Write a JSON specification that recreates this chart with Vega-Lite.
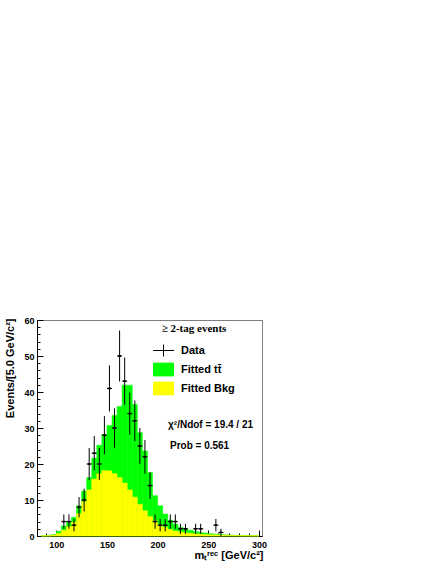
{
  "$schema": "https://vega.github.io/schema/vega-lite/v6.json",
  "width": 225,
  "height": 216,
  "autosize": {"type": "none"},
  "padding": {"left": 37, "top": 320, "right": 174, "bottom": 28},
  "background": "white",
  "config": {
    "view": {"stroke": "#7f7f7f", "strokeWidth": 1},
    "axis": {"grid": false, "tickColor": "black", "domainColor": "black", "labelColor": "black", "titleColor": "black", "labelFont": "Liberation Sans", "titleFont": "Liberation Sans", "tickWidth": 1}
  },
  "datasets": {
    "hist": [
      {"lo": 85, "hi": 90, "tot": 0.05, "bkg": 0.03},
      {"lo": 90, "hi": 95, "tot": 0.1, "bkg": 0.07},
      {"lo": 95, "hi": 100, "tot": 0.4, "bkg": 0.25},
      {"lo": 100, "hi": 105, "tot": 1.3, "bkg": 0.7},
      {"lo": 105, "hi": 110, "tot": 2.8, "bkg": 1.6},
      {"lo": 110, "hi": 115, "tot": 3.8, "bkg": 2.6},
      {"lo": 115, "hi": 120, "tot": 5.2, "bkg": 3.8},
      {"lo": 120, "hi": 125, "tot": 8.4, "bkg": 6.2},
      {"lo": 125, "hi": 130, "tot": 12.5, "bkg": 9.5},
      {"lo": 130, "hi": 135, "tot": 16.2, "bkg": 12.8},
      {"lo": 135, "hi": 140, "tot": 21.6, "bkg": 15.8},
      {"lo": 140, "hi": 145, "tot": 25.2, "bkg": 17.3},
      {"lo": 145, "hi": 150, "tot": 28.2, "bkg": 18.2},
      {"lo": 150, "hi": 155, "tot": 30.7, "bkg": 18.1},
      {"lo": 155, "hi": 160, "tot": 33.5, "bkg": 17.3},
      {"lo": 160, "hi": 165, "tot": 36.0, "bkg": 16.2},
      {"lo": 165, "hi": 170, "tot": 41.9, "bkg": 14.7},
      {"lo": 170, "hi": 175, "tot": 41.9, "bkg": 12.8},
      {"lo": 175, "hi": 180, "tot": 36.5, "bkg": 10.8},
      {"lo": 180, "hi": 185, "tot": 28.7, "bkg": 8.8},
      {"lo": 185, "hi": 190, "tot": 23.6, "bkg": 7.0},
      {"lo": 190, "hi": 195, "tot": 17.6, "bkg": 5.4},
      {"lo": 195, "hi": 200, "tot": 11.2, "bkg": 4.2},
      {"lo": 200, "hi": 205, "tot": 8.4, "bkg": 3.1},
      {"lo": 205, "hi": 210, "tot": 6.1, "bkg": 2.4},
      {"lo": 210, "hi": 215, "tot": 4.4, "bkg": 1.8},
      {"lo": 215, "hi": 220, "tot": 3.3, "bkg": 1.4},
      {"lo": 220, "hi": 225, "tot": 2.4, "bkg": 1.1},
      {"lo": 225, "hi": 230, "tot": 1.9, "bkg": 0.9},
      {"lo": 230, "hi": 235, "tot": 1.6, "bkg": 0.75},
      {"lo": 235, "hi": 240, "tot": 1.3, "bkg": 0.6},
      {"lo": 240, "hi": 245, "tot": 1.0, "bkg": 0.5},
      {"lo": 245, "hi": 250, "tot": 0.8, "bkg": 0.4},
      {"lo": 250, "hi": 255, "tot": 0.65, "bkg": 0.35},
      {"lo": 255, "hi": 260, "tot": 0.5, "bkg": 0.3},
      {"lo": 260, "hi": 265, "tot": 0.4, "bkg": 0.25},
      {"lo": 265, "hi": 270, "tot": 0.32, "bkg": 0.2},
      {"lo": 270, "hi": 275, "tot": 0.25, "bkg": 0.16},
      {"lo": 275, "hi": 280, "tot": 0.2, "bkg": 0.13},
      {"lo": 280, "hi": 285, "tot": 0.16, "bkg": 0.1},
      {"lo": 285, "hi": 290, "tot": 0.13, "bkg": 0.08},
      {"lo": 290, "hi": 295, "tot": 0.1, "bkg": 0.06},
      {"lo": 295, "hi": 300, "tot": 0.08, "bkg": 0.05}
    ],
    "pts": [
      {"m": 107.5, "xl": 105, "xh": 110, "n": 4, "lo": 2, "hi": 6},
      {"m": 112.5, "xl": 110, "xh": 115, "n": 4, "lo": 2, "hi": 6},
      {"m": 117.5, "xl": 115, "xh": 120, "n": 3, "lo": 1.27, "hi": 4.73},
      {"m": 122.5, "xl": 120, "xh": 125, "n": 8, "lo": 5.17, "hi": 10.83},
      {"m": 127.5, "xl": 125, "xh": 130, "n": 10, "lo": 6.84, "hi": 13.16},
      {"m": 132.5, "xl": 130, "xh": 135, "n": 20, "lo": 15.53, "hi": 24.47},
      {"m": 137.5, "xl": 135, "xh": 140, "n": 23, "lo": 18.2, "hi": 27.8},
      {"m": 142.5, "xl": 140, "xh": 145, "n": 20, "lo": 15.53, "hi": 24.47},
      {"m": 147.5, "xl": 145, "xh": 150, "n": 28, "lo": 22.71, "hi": 33.29},
      {"m": 152.5, "xl": 150, "xh": 155, "n": 41, "lo": 34.6, "hi": 47.4},
      {"m": 157.5, "xl": 155, "xh": 160, "n": 30, "lo": 24.52, "hi": 35.48},
      {"m": 162.5, "xl": 160, "xh": 165, "n": 50, "lo": 42.93, "hi": 57.07},
      {"m": 167.5, "xl": 165, "xh": 170, "n": 43, "lo": 36.44, "hi": 49.56},
      {"m": 172.5, "xl": 170, "xh": 175, "n": 34, "lo": 28.17, "hi": 39.83},
      {"m": 177.5, "xl": 175, "xh": 180, "n": 32, "lo": 26.34, "hi": 37.66},
      {"m": 182.5, "xl": 180, "xh": 185, "n": 25, "lo": 20, "hi": 30},
      {"m": 187.5, "xl": 185, "xh": 190, "n": 22, "lo": 17.31, "hi": 26.69},
      {"m": 192.5, "xl": 190, "xh": 195, "n": 14, "lo": 10.26, "hi": 17.74},
      {"m": 197.5, "xl": 195, "xh": 200, "n": 4, "lo": 2, "hi": 6},
      {"m": 202.5, "xl": 200, "xh": 205, "n": 3, "lo": 1.27, "hi": 4.73},
      {"m": 207.5, "xl": 205, "xh": 210, "n": 3, "lo": 1.27, "hi": 4.73},
      {"m": 212.5, "xl": 210, "xh": 215, "n": 4, "lo": 2, "hi": 6},
      {"m": 217.5, "xl": 215, "xh": 220, "n": 4, "lo": 2, "hi": 6},
      {"m": 222.5, "xl": 220, "xh": 225, "n": 2, "lo": 0.59, "hi": 3.41},
      {"m": 227.5, "xl": 225, "xh": 230, "n": 2, "lo": 0.59, "hi": 3.41},
      {"m": 237.5, "xl": 235, "xh": 240, "n": 2, "lo": 0.59, "hi": 3.41},
      {"m": 242.5, "xl": 240, "xh": 245, "n": 2, "lo": 0.59, "hi": 3.41},
      {"m": 257.5, "xl": 255, "xh": 260, "n": 3, "lo": 1.27, "hi": 4.73},
      {"m": 262.5, "xl": 260, "xh": 265, "n": 1, "lo": 0, "hi": 2}
    ],
    "notes": [{"label": "chi2"}]
  },
  "layer": [
    {
      "data": {"name": "hist"},
      "mark": {"type": "rect", "strokeWidth": 0.5},
      "encoding": {
        "x": {"field": "lo", "type": "quantitative", "scale": {"domain": [81, 303], "nice": false, "zero": false},
          "axis": {"orient": "bottom", "values": [100, 150, 200, 250, 300], "tickSize": -6, "labelFontSize": 9, "labelFontWeight": "bold", "labelPadding": 10, "labelFlush": false, "labelOverlap": false,
            "title": "mₜʳᵉᶜ [GeV/c²]", "titleFontSize": 11, "titleFontWeight": "bold", "titleAnchor": "end", "titleAlign": "right", "titleBaseline": "middle", "titleX": 226, "titleY": 19}},
        "x2": {"field": "hi"},
        "y": {"field": "tot", "type": "quantitative", "scale": {"domain": [0, 60], "nice": false},
          "axis": {"orient": "left", "values": [0, 10, 20, 30, 40, 50, 60], "tickSize": -6, "labelFontSize": 9, "labelFontWeight": "bold", "labelPadding": 9, "labelFlush": false, "labelOverlap": false,
            "title": "Events/[5.0 GeV/c²]", "titleFontSize": 11, "titleFontWeight": "bold", "titleAngle": 270, "titleAnchor": "end", "titleAlign": "right", "titleBaseline": "middle", "titleX": -27, "titleY": -2}},
        "y2": {"datum": 0},
        "color": {"datum": "Fitted tt̄", "type": "nominal",
          "scale": {"domain": ["Data", "Fitted tt̄", "Fitted Bkg"], "range": ["black", "#00ff00", "#ffff00"]},
          "legend": {
            "title": "≥ 2-tag events", "orient": "none", "legendX": 116, "legendY": 3, "direction": "vertical", "padding": 0,
            "titleFont": "Liberation Serif", "titleFontSize": 11, "titleFontWeight": "bold", "titleColor": "black", "titlePadding": 6, "titleAnchor": "middle",
            "labelFont": "Liberation Sans", "labelFontSize": 11, "labelFontWeight": "bold", "labelColor": "black", "labelOffset": 7,
            "symbolSize": 400, "rowPadding": 0, "symbolOpacity": 1, "symbolStrokeWidth": 1
          }},
        "stroke": {"datum": "Fitted tt̄", "type": "nominal",
          "scale": {"domain": ["Data", "Fitted tt̄", "Fitted Bkg"], "range": ["black", "#00ff00", "#ffff00"]}}
      }
    },
    {
      "data": {"name": "hist"},
      "mark": {"type": "rect", "strokeWidth": 0.5},
      "encoding": {
        "x": {"field": "lo", "type": "quantitative",
          "axis": {"orient": "bottom", "values": [90, 100, 110, 120, 130, 140, 150, 160, 170, 180, 190, 200, 210, 220, 230, 240, 250, 260, 270, 280, 290, 300], "tickSize": -3, "labels": false, "domain": false, "title": null}},
        "x2": {"field": "hi"},
        "y": {"field": "bkg", "type": "quantitative",
          "axis": {"orient": "left", "values": [0, 2, 4, 6, 8, 10, 12, 14, 16, 18, 20, 22, 24, 26, 28, 30, 32, 34, 36, 38, 40, 42, 44, 46, 48, 50, 52, 54, 56, 58, 60], "tickSize": -3, "labels": false, "domain": false, "title": null}},
        "y2": {"datum": 0},
        "color": {"datum": "Fitted Bkg", "type": "nominal"},
        "stroke": {"datum": "Fitted Bkg", "type": "nominal"}
      }
    },
    {
      "data": {"name": "pts"},
      "mark": {"type": "rule", "color": "black", "strokeWidth": 1},
      "encoding": {
        "x": {"field": "m", "type": "quantitative", "axis": null},
        "y": {"field": "lo", "type": "quantitative", "axis": null},
        "y2": {"field": "hi"}
      }
    },
    {
      "data": {"name": "pts"},
      "mark": {"type": "rule", "color": "black", "strokeWidth": 1},
      "encoding": {
        "x": {"field": "xl", "type": "quantitative", "axis": null},
        "x2": {"field": "xh"},
        "y": {"field": "n", "type": "quantitative", "axis": null}
      }
    },
    {
      "data": {"name": "pts"},
      "mark": {"type": "point", "filled": true, "size": 9, "opacity": 1, "strokeWidth": 1.5},
      "encoding": {
        "x": {"field": "m", "type": "quantitative", "axis": null},
        "y": {"field": "n", "type": "quantitative", "axis": null},
        "color": {"datum": "Data", "type": "nominal"},
        "stroke": {"datum": "Data", "type": "nominal"},
        "shape": {"datum": "Data", "type": "nominal", "scale": {"domain": ["Data", "Fitted tt̄", "Fitted Bkg"], "range": ["M-1.05,0H1.05M0,-0.6V0.6", "M-1,-0.64H1V0.64H-1Z", "M-1,-0.64H1V0.64H-1Z"]}}
      }
    },
    {
      "data": {"name": "notes"},
      "mark": {"type": "text", "align": "left", "baseline": "middle", "font": "Liberation Sans", "fontWeight": "bold", "fontSize": 10, "color": "black"},
      "encoding": {
        "x": {"datum": 210.3, "type": "quantitative", "axis": null},
        "y": {"datum": 30.8, "type": "quantitative", "axis": null},
        "text": {"value": "χ²/Ndof = 19.4 / 21"}
      }
    },
    {
      "data": {"name": "notes"},
      "mark": {"type": "text", "align": "left", "baseline": "middle", "font": "Liberation Sans", "fontWeight": "bold", "fontSize": 10, "color": "black"},
      "encoding": {
        "x": {"datum": 212.2, "type": "quantitative", "axis": null},
        "y": {"datum": 25, "type": "quantitative", "axis": null},
        "text": {"value": "Prob = 0.561"}
      }
    }
  ],
  "resolve": {"axis": {"x": "independent", "y": "independent"}}
}
